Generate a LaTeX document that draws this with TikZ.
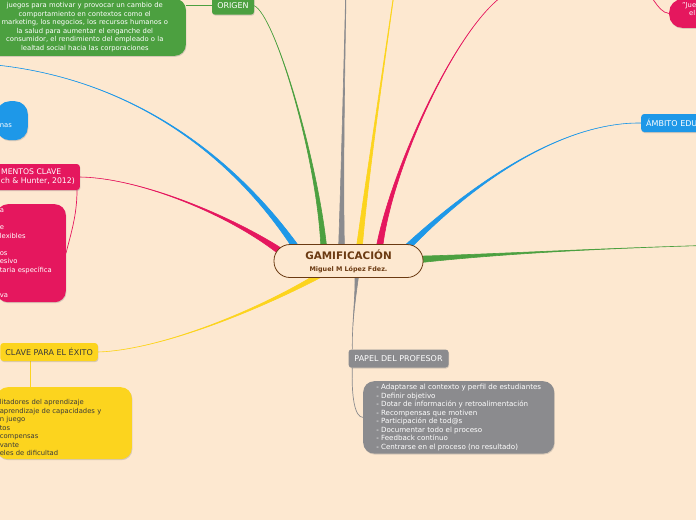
\documentclass[tikz,border=0pt]{standalone}
\usepackage{fontspec}
\setmainfont{DejaVu Sans}
\usetikzlibrary{calc,shadows,backgrounds}

\definecolor{peach}{HTML}{FDE8D0}
\definecolor{leaf}{HTML}{4CA040}
\definecolor{sky}{HTML}{1E98E8}
\definecolor{rose}{HTML}{E5175E}
\definecolor{sun}{HTML}{FCD41E}
\definecolor{ash}{HTML}{8B8B8E}
\definecolor{bark}{HTML}{6B3A12}
\definecolor{ink}{HTML}{3A3A3A}

% tapered branch: colour, thin end, thick end, control near thin end, control near thick end, half width
\newcommand{\limb}[6]{%
  \filldraw[#1, line width=.6pt] (#2) .. controls (#4) and (#5) .. ($(#3)!#6!90:(#5)$)
    -- ($(#3)!#6!-90:(#5)$) .. controls (#5) and (#4) .. (#2) -- cycle;}

\begin{document}
\begin{tikzpicture}[x=1pt, y=-1pt,
  font=\fontsize{6.8}{8.5}\selectfont,
  shade/.style={drop shadow={shadow xshift=.6pt, shadow yshift=-1pt, opacity=.3}},
  topic/.style={shade, rounded corners=3pt, inner xsep=5pt, inner ysep=2pt, minimum height=18pt,
                text=white, font=\fontsize{8}{9}\selectfont},
  leafbox/.style={shade, rounded corners=11pt, inner xsep=3pt, inner ysep=3pt, align=left},
  root/.style={draw=bark, line width=.8pt, fill=peach, rounded corners=16pt, minimum width=149pt,
               minimum height=33pt, text=bark, align=center, inner sep=0pt,
               font=\fontsize{6.4}{12}\selectfont\bfseries},
  twig/.style={line width=.7pt}
]
\useasboundingbox (0,0) rectangle (696,520);

% centre
\node[root] (gam) at (348.5,261) {{\fontsize{10.4}{12}\selectfont GAMIFICACIÓN}\\Miguel M López Fdez.};

% origen
\node[topic, fill=leaf, minimum width=42pt] (origen) at (233,5.7) {ORIGEN};
\node[leafbox, fill=leaf, text=white, align=center, text width=190pt, inner xsep=6pt, inner ysep=4pt,
      anchor=south east] (origentext) at (186,56)
  {juegos para motivar y provocar un cambio de\\comportamiento en contextos como el\\marketing, los negocios, los recursos humanos o\\la salud para aumentar el enganche del\\consumidor, el rendimiento del empleado o la\\lealtad social hacia las corporaciones};

% blue, left
\node[leafbox, fill=sky, text=white, text width=25pt, minimum height=39pt, rounded corners=13pt,
      anchor=north east] (skyleaf) at (28,101) {\strut\\nas};

% elementos clave
\node[topic, fill=rose, align=right, minimum height=26pt, anchor=east, font=\fontsize{7.7}{9}\selectfont]
  (rosetopic) at (80,177) {MENTOS CLAVE\hspace*{13.5pt}\\ch \& Hunter, 2012)};
\node[leafbox, fill=rose, text=white, text width=63pt, minimum height=98pt, anchor=north east] (roseleaf) at (66,204)
  {a\\\mbox{}\\e\\lexibles\\\mbox{}\\os\\esivo\\taria específica\\\mbox{}\\\mbox{}\\va};

% claves para el exito
\node[topic, fill=sun, text=ink, anchor=east] (suntopic) at (98,352) {CLAVE PARA EL ÉXITO};
\node[leafbox, fill=sun, text=ink, text width=129pt, minimum height=72pt, anchor=north east] (sunleaf) at (132,387)
  {\strut\\litadores del aprendizaje\\aprendizaje de capacidades y\\n juego\\tos\\compensas\\vante\\eles de dificultad};

% papel del profesor
\node[topic, fill=ash, minimum width=100pt] (papel) at (398.5,358.5) {PAPEL DEL PROFESOR};
\node[leafbox, fill=ash, text=white, minimum width=191pt, minimum height=72pt, anchor=north west,
      font=\fontsize{7.1}{8.5}\selectfont] (papelleaf) at (363,381)
  {- Adaptarse al contexto y perfil de estudiantes\\- Definir objetivo\\- Dotar de información y retroalimentación\\- Recompensas que motiven\\- Participación de tod@s\\- Documentar todo el proceso\\- Feedback contínuo\\- Centrarse en el proceso (no resultado)};

% ambito educativo
\node[topic, fill=sky, text width=80pt, align=left, anchor=west] (ambito) at (641,123) {ÁMBITO EDU};

% boxes cut by the top edge
\node[topic, fill=rose, minimum width=128pt, anchor=south] (rosehead) at (577,-1) {};
\node[leafbox, fill=rose, text=white, text width=40pt, minimum height=28.6pt, rounded corners=13pt,
      anchor=south west] (roseleaf2) at (669,28) {\hspace*{10pt}"Jue\\\hspace*{17pt}el\\\mbox{}};

\begin{pgfonlayer}{background}
\fill[peach] (0,0) rectangle (696,520);
\coordinate (gO) at ($(gam.center)+(-24.5,-10.5)$);
\coordinate (gG) at ($(gam.center)+(-7,-10.5)$);
\coordinate (gY) at ($(gam.center)+(10.5,-10.5)$);
\coordinate (gR) at ($(gam.center)+(30.5,-10.5)$);
\coordinate (gB) at ($(gam.center)+(53.5,-8.5)$);
\coordinate (gE) at ($(gam.center)+(69.5,-1.5)$);
\coordinate (gP) at ($(gam.center)+(8.5,10.5)$);
\coordinate (gS) at ($(gam.center)+(-22.5,10.5)$);
\coordinate (gL) at ($(gam.center)+(-66.5,-8.5)$);
\coordinate (gK) at ($(gam.center)+(-50.5,-10.5)$);
\coordinate (ash-far) at (350,-200);
\coordinate (sun-far) at (418,-180);
\coordinate (sky-far) at (-30,63);
\coordinate (leaf-far) at (740,244.5);
% main branches
\limb{leaf}{origen.east}{gO}{275,15}{318,160}{3pt}
\limb{ash}{ash-far}{gG}{347,-50}{342,150}{3pt}
\limb{sun}{sun-far}{gY}{400,-40}{370,150}{3pt}
\limb{rose}{rosehead.west}{gR}{462,12}{390,170}{3.3pt}
\limb{sky}{ambito.west}{gB}{560,122}{470,185}{3.3pt}
\limb{leaf}{leaf-far}{gE}{600,248}{500,254}{3.3pt}
\limb{ash}{$(papel.north west)+(4,0)$}{gP}{352,320}{356,295}{2.2pt}
\limb{sun}{suntopic.east}{gS}{160,350}{260,310}{2.8pt}
\limb{rose}{rosetopic.east}{gL}{140,178}{230,215}{3.3pt}
\limb{sky}{sky-far}{gK}{120,70}{230,150}{3.2pt}
% links to the leaves
\draw[twig, leaf] (origentext.east |- origen.center) -- (origen.west);
\draw[twig, rose] ([xshift=-3pt]rosetopic.south east) .. controls +(0,25) and +(5,-20) .. (roseleaf.east);
\draw[twig, sun] ([xshift=34pt]sunleaf.north west) -- ([xshift=34pt]sunleaf.north west |- suntopic.south);
\draw[twig, ash] ([xshift=4pt]papel.south west) .. controls +(-1,30) and +(-8,0) .. (papelleaf.west);
\draw[twig, rose] (rosehead.east) .. controls (652,-10) and (656,12) .. (roseleaf2.west);
\end{pgfonlayer}
\end{tikzpicture}
\end{document}
